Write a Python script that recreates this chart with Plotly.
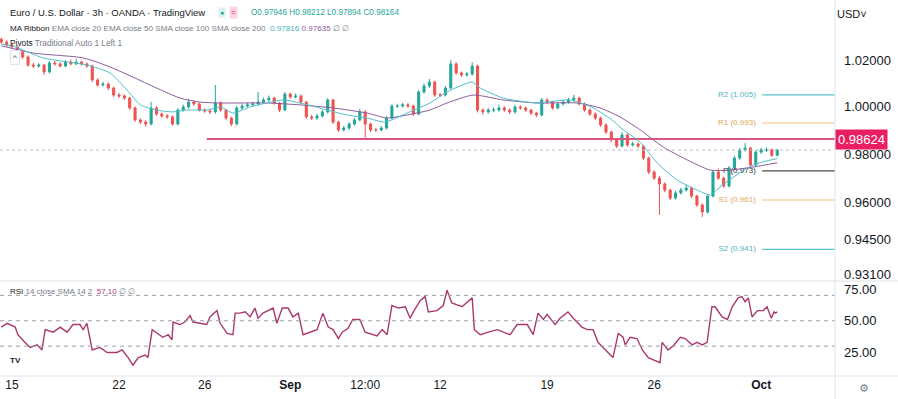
import math
import plotly.graph_objects as go

# ---------------- data (EUR/USD, OANDA, candles) ----------------
opens = [1.0290,1.0278,1.0265,1.0257,1.0235,1.0213,1.0178,1.0174,1.0178,1.0148,
         1.0187,1.0183,1.0174,1.0191,1.0183,1.0191,1.0183,1.0174,1.0114,1.0092,
         1.0096,1.0079,1.0049,1.0045,1.0036,0.9994,0.9943,0.9934,0.9926,0.9994,
         0.9968,0.9960,0.9956,0.9926,0.9985,0.9998,1.0019,1.0011,0.9985,0.9981,
         0.9977,1.0015,0.9985,0.9951,0.9926,0.9994,1.0002,1.0007,1.0011,1.0019,
         1.0028,1.0036,1.0015,0.9985,1.0053,1.0041,1.0045,1.0019,0.9956,0.9951,
         0.9960,0.9977,1.0028,0.9934,0.9901,0.9909,0.9926,0.9943,0.9977,0.9926,
         0.9901,0.9901,0.9909,0.9951,1.0002,1.0002,1.0007,1.0002,0.9968,1.0062,
         1.0088,1.0105,1.0049,1.0049,1.0079,1.0183,1.0144,1.0135,1.0139,1.0174,
         0.9985,0.9977,0.9985,0.9985,0.9994,0.9985,0.9977,0.9998,0.9994,0.9985,
         0.9972,0.9964,1.0028,1.0019,0.9994,1.0011,1.0019,1.0028,1.0036,1.0011,
         0.9985,0.9968,0.9951,0.9922,0.9892,0.9859,0.9833,0.9880,0.9838,0.9842,
         0.9833,0.9783,0.9725,0.9700,0.9676,0.9651,0.9618,0.9639,0.9651,0.9659,
         0.9626,0.9590,0.9561,0.9626,0.9725,0.9700,0.9667,0.9742,0.9783,0.9817,
         0.9825,0.9754,0.9808,0.9817,0.9817,0.97946]
highs = [1.0298,1.0286,1.0272,1.0263,1.0241,1.0220,1.0188,1.0186,1.0183,1.0196,
         1.0195,1.0190,1.0200,1.0202,1.0205,1.0197,1.0189,1.0180,1.0120,1.0106,
         1.0103,1.0085,1.0058,1.0052,1.0042,1.0000,0.9950,0.9942,1.0020,1.0001,
         0.9975,0.9968,0.9962,0.9993,1.0008,1.0032,1.0026,1.0017,0.9992,0.9988,
         1.0092,1.0022,0.9990,0.9957,1.0003,1.0012,1.0016,1.0020,1.0062,1.0038,
         1.0047,1.0042,1.0020,1.0062,1.0060,1.0056,1.0052,1.0024,0.9965,0.9969,
         0.9986,1.0036,1.0033,0.9940,0.9918,0.9934,0.9952,0.9990,0.9985,0.9932,
         0.9910,0.9917,0.9960,1.0010,1.0012,1.0016,1.0014,1.0008,1.0070,1.0098,
         1.0118,1.0110,1.0058,1.0088,1.0200,1.0190,1.0150,1.0148,1.0190,1.0180,
         0.9993,0.9994,0.9996,1.0008,1.0001,0.9992,1.0008,1.0006,1.0000,0.9990,
         0.9978,1.0036,1.0035,1.0025,1.0020,1.0028,1.0037,1.0050,1.0042,1.0017,
         0.9992,0.9975,0.9957,0.9928,0.9898,0.9864,0.9892,0.9886,0.9852,0.9849,
         0.9838,0.9790,0.9732,0.9708,0.9682,0.9657,0.9648,0.9660,0.9672,0.9665,
         0.9632,0.9596,0.9635,0.9733,0.9740,0.9706,0.9750,0.9792,0.9826,0.9846,
         0.9830,0.9816,0.9826,0.9828,0.9822,0.98212]
lows = [1.0270,1.0258,1.0249,1.0228,1.0205,1.0170,1.0165,1.0166,1.0135,1.0142,
        1.0176,1.0167,1.0168,1.0177,1.0178,1.0176,1.0166,1.0105,1.0084,1.0086,
        1.0070,1.0041,1.0037,1.0028,0.9986,0.9935,0.9925,0.9915,0.9920,0.9960,
        0.9952,0.9948,0.9918,0.9920,0.9978,0.9992,1.0003,0.9978,0.9973,0.9968,
        0.9970,0.9978,0.9943,0.9917,0.9920,0.9986,0.9995,0.9999,1.0004,1.0012,
        1.0020,1.0008,0.9977,0.9980,1.0033,1.0034,1.0011,0.9948,0.9942,0.9944,
        0.9953,0.9970,0.9926,0.9892,0.9894,0.9902,0.9919,0.9937,0.9867,0.9893,
        0.9892,0.9894,0.9903,0.9945,0.9994,0.9995,0.9994,0.9960,0.9962,1.0055,
        1.0080,1.0041,1.0040,1.0043,1.0073,1.0136,1.0127,1.0128,1.0132,0.9975,
        0.9965,0.9970,0.9976,0.9978,0.9977,0.9968,0.9970,0.9986,0.9977,0.9964,
        0.9955,0.9958,1.0010,0.9986,0.9988,1.0004,1.0012,1.0020,1.0004,0.9977,
        0.9960,0.9943,0.9914,0.9884,0.9850,0.9825,0.9828,0.9830,0.9831,0.9825,
        0.9775,0.9716,0.9692,0.9549,0.9642,0.9610,0.9612,0.9632,0.9644,0.9618,
        0.9582,0.9541,0.9555,0.9620,0.9692,0.9660,0.9662,0.9736,0.9776,0.9810,
        0.9745,0.9748,0.9800,0.9808,0.9788,0.97894]
closes = [1.0278,1.0265,1.0257,1.0235,1.0213,1.0178,1.0174,1.0178,1.0148,1.0187,
          1.0183,1.0174,1.0191,1.0183,1.0191,1.0183,1.0174,1.0114,1.0092,1.0096,
          1.0079,1.0049,1.0045,1.0036,0.9994,0.9943,0.9934,0.9926,0.9994,0.9968,
          0.9960,0.9956,0.9926,0.9985,0.9998,1.0019,1.0011,0.9985,0.9981,0.9977,
          1.0015,0.9985,0.9951,0.9926,0.9994,1.0002,1.0007,1.0011,1.0019,1.0028,
          1.0036,1.0015,0.9985,1.0053,1.0041,1.0045,1.0019,0.9956,0.9951,0.9960,
          0.9977,1.0028,0.9934,0.9901,0.9909,0.9926,0.9943,0.9977,0.9926,0.9901,
          0.9901,0.9909,0.9951,1.0002,1.0002,1.0007,1.0002,0.9968,1.0062,1.0088,
          1.0105,1.0049,1.0049,1.0079,1.0183,1.0144,1.0135,1.0139,1.0174,0.9985,
          0.9977,0.9985,0.9985,0.9994,0.9985,0.9977,0.9998,0.9994,0.9985,0.9972,
          0.9964,1.0028,1.0019,0.9994,1.0011,1.0019,1.0028,1.0036,1.0011,0.9985,
          0.9968,0.9951,0.9922,0.9892,0.9859,0.9833,0.9880,0.9838,0.9842,0.9833,
          0.9783,0.9725,0.9700,0.9676,0.9651,0.9618,0.9639,0.9651,0.9659,0.9626,
          0.9590,0.9561,0.9626,0.9725,0.9700,0.9667,0.9742,0.9783,0.9817,0.9825,
          0.9754,0.9808,0.9817,0.9817,0.97946,0.98164]

# MA ribbon (positions in candle units)
ema20_t = [0,2.6,7.8,16,20.3,23.5,26,29,32,34.7,38.4,41,43.3,46.5,52.7,55.8,60.9,64.6,68.4,
           71.7,75.8,80.1,83.3,88,89.5,93.8,100.1,106.3,110.6,114.3,116,119.4,122.6,126.3,
           130,132.5,134.3,136.8,140.5,145]
ema20_v = [1.0270,1.0257,1.0209,1.0178,1.0144,1.0070,1.0007,0.9985,0.9977,0.9985,0.9985,
           0.9998,0.9972,0.9998,1.0028,1.0015,0.9985,0.9964,0.9951,0.9934,0.9972,1.0015,
           1.0062,1.0105,1.0079,1.0036,1.0015,1.0028,0.9994,0.9940,0.9905,0.9850,0.9762,
           0.9692,0.9651,0.9631,0.9663,0.9704,0.9754,0.97816]
ema50_t = [0,6,15.3,20.3,24.6,29,33.4,37.1,40.9,49.7,55.8,62,68.4,72.1,75.8,80.1,83.3,88.2,
           93.8,100.1,107.6,111.9,115.6,119.4,123.7,128.2,132.5,136.2,140.5,145]
ema50_v = [1.0262,1.0230,1.0209,1.0170,1.0126,1.0079,1.0036,1.0019,1.0015,1.0015,1.0007,
           0.9994,0.9972,0.9951,0.9964,0.9985,1.0015,1.0049,1.0028,1.0015,1.0015,0.9994,
           0.9956,0.9901,0.9829,0.9775,0.9733,0.9733,0.9746,0.97635]

# RSI 14
rsi_t = [0,1.1,2.6,3.1,4.4,5.4,6.7,7.6,8.2,9.7,11,12.3,13.4,14.7,15.3,16,17,18.4,19.8,21.6,
         22.6,23.7,24.6,25.6,26.9,27.4,28.2,29.3,30.2,31.2,31.9,32.1,33.4,34.3,35.3,35.8,
         37.1,38.4,39,40.3,40.9,42.2,43.3,43.7,44.6,45.6,46.5,47.4,48,48.9,50.8,51.5,52.5,
         53.6,54.5,55.5,56.4,57.7,59,60.1,61.1,62,63,63.7,64.8,65.7,67,68,69.3,70.2,71.2,
         72.1,73,74.2,75.5,76.4,77,78.3,79.2,79.8,81.4,82.6,83.3,84.2,86.1,88,88.4,89.5,91,
         92.7,95.1,96.4,98.3,99.4,100.3,101.3,102,103.5,104.4,105.9,106.9,108.5,109.5,110.6,
         111.5,112.5,113.4,114.3,115.3,116.2,116.6,117.5,118.8,119.8,120.9,122.2,123.1,123.5,
         124.1,124.6,125.5,126.9,127.8,129.1,130,131,131.9,132.8,133.4,134.7,135.7,136.6,
         137.7,138.4,139,139.6,140.3,141.3,142.4,143.1,143.9,144.4,144.7,145]
rsi_v = [45,48,45,39,33,29,31,27,43,41,45,41,47,47,43,48,27,29,25,25,
         27,21,15,21,23,21,43,40,37,39,35,49,47,49,54,49,
         48,47,53,58,48,40,39,56,56,57,53,60,52,56,60,48,60,
         60,53,56,39,41,43,56,45,43,36,41,44,51,51,41,39,38,43,
         39,62,60,61,52,57,66,69,57,58,62,74,64,61,68,43,39,41,
         43,39,47,47,39,56,51,55,47,52,57,52,45,43,43,
         33,29,25,21,40,37,31,37,36,27,21,19,17,33,
         30,27,30,37,36,31,33,31,33,61,61,53,51,61,
         68,69,65,68,53,58,58,61,52,57,56,57.1]

# Pivots (Traditional) and the horizontal level
pivot_names = ["R2", "R1", "P", "S1", "S2"]
pivot_values = [1.005, 0.993, 0.973, 0.961, 0.941]
pivot_colors = ["#5bc2cf", "#f3c07e", "#4a4a4a", "#f3c07e", "#5bc2cf"]
pivot_text_colors = ["#4fb4c2", "#e0a85a", "#333333", "#e0a85a", "#4fb4c2"]
level_value = 0.98624
last_close = 0.98164

price_ticks = [1.02, 1.00, 0.98, 0.96, 0.945, 0.931]
rsi_ticks = [75, 50, 25]
x_tick_pos = [2, 22, 38, 54, 68, 82, 102, 122, 142]
x_tick_text = ["15", "22", "26", "<b>Sep</b>", "12:00", "12", "19", "26", "<b>Oct</b>"]

# ---------------- figure ----------------
W, H = 898, 399
ML, MR, MT, MB = 0, 63, 0, 23
PW, PH = W - ML - MR, H - MT - MB
XR = [-0.24, 155.8]
split = 1 - 281 / PH

def py(ypx):
    return 1 - ypx / PH

def px(xpx):
    return xpx / PW

FONT = "Liberation Sans, Arial, sans-serif"
TXT = "#131722"
GRAY = "#787b86"

fig = go.Figure()
idx = list(range(len(closes)))

fig.add_trace(go.Scatter(x=XR, y=[last_close, last_close], mode="lines",
                         line=dict(color="#b8bcc8", width=1, dash="dot"),
                         hoverinfo="skip", xaxis="x", yaxis="y"))
fig.add_trace(go.Scatter(x=[38.4, XR[1]], y=[level_value, level_value], mode="lines",
                         line=dict(color="#d9577f", width=2),
                         hoverinfo="skip", xaxis="x", yaxis="y"))
for name, val, lc, tc in zip(pivot_names, pivot_values, pivot_colors, pivot_text_colors):
    fig.add_trace(go.Scatter(x=[142.2, XR[1]], y=[val, val], mode="lines",
                             line=dict(color=lc, width=1.2), hoverinfo="skip",
                             xaxis="x", yaxis="y"))
    fig.add_trace(go.Scatter(x=[141.0], y=[val], mode="text",
                             text=[f"{name} ({val:.3f})"], textposition="middle left",
                             textfont=dict(family=FONT, size=8, color=tc),
                             hoverinfo="skip", xaxis="x", yaxis="y"))

fig.add_trace(go.Scatter(x=ema50_t, y=ema50_v, mode="lines",
                         line=dict(color="#8e5a9c", width=1, shape="spline", smoothing=0.6),
                         hoverinfo="skip", xaxis="x", yaxis="y"))
fig.add_trace(go.Scatter(x=ema20_t, y=ema20_v, mode="lines",
                         line=dict(color="#4fc0c9", width=1, shape="spline", smoothing=0.6),
                         hoverinfo="skip", xaxis="x", yaxis="y"))

fig.add_trace(go.Candlestick(
    x=idx, open=opens, high=highs, low=lows, close=closes,
    increasing=dict(line=dict(color="#26a69a", width=1), fillcolor="#26a69a"),
    decreasing=dict(line=dict(color="#ef5350", width=1), fillcolor="#ef5350"),
    whiskerwidth=0, xaxis="x", yaxis="y", hoverinfo="skip"))

fig.add_trace(go.Scatter(x=rsi_t, y=rsi_v, mode="lines",
                         line=dict(color="#a93a6e", width=1.4),
                         hoverinfo="skip", xaxis="x2", yaxis="y2"))

shapes = []
for lvl in [70, 50, 30]:
    shapes.append(dict(type="line", xref="paper", yref="y2", x0=0, x1=1, y0=lvl, y1=lvl,
                       line=dict(color="#9a9ea8", width=1, dash="4px,4px")))
# pane separators
shapes.append(dict(type="line", xref="paper", yref="paper", x0=0, x1=W / PW, y0=split, y1=split,
                   line=dict(color="#e0e3eb", width=1)))
shapes.append(dict(type="line", xref="paper", yref="paper", x0=0, x1=W / PW, y0=0, y1=0,
                   line=dict(color="#e0e3eb", width=1)))
shapes.append(dict(type="line", xref="paper", yref="paper", x0=1, x1=1, y0=-MB / PH, y1=1,
                   line=dict(color="#e0e3eb", width=1)))

ann = []
ann.append(dict(xref="paper", yref="paper", x=px(8), y=py(13), xanchor="left", yanchor="middle",
                text="Euro / U.S. Dollar · 3h · OANDA · TradingView", showarrow=False,
                font=dict(family=FONT, size=9.5, color=TXT)))
ann.append(dict(xref="paper", yref="paper", x=px(222), y=py(13), xanchor="center", yanchor="middle",
                text="●", showarrow=False, font=dict(family=FONT, size=7, color="#22ab94"),
                bgcolor="#d9f2ee", borderpad=1))
ann.append(dict(xref="paper", yref="paper", x=px(233), y=py(13), xanchor="center", yanchor="middle",
                text="=", showarrow=False, font=dict(family=FONT, size=8, color="#e91e63"),
                bgcolor="#fbd5e1", borderpad=1))
ann.append(dict(xref="paper", yref="paper", x=px(249), y=py(13), xanchor="left", yanchor="middle",
                text="O0.97946 H0.98212 L0.97894 C0.98164", showarrow=False,
                font=dict(family=FONT, size=8.2, color="#26a69a")))
ann.append(dict(xref="paper", yref="paper", x=px(8), y=py(28), xanchor="left", yanchor="middle",
                text=("MA Ribbon <span style='color:#787b86'>EMA close 20 EMA close 50 SMA close 100 "
                      "SMA close 200</span>  <span style='color:#3fb3c0'>0.97816</span> "
                      "<span style='color:#8e5a9c'>0.97635</span> "
                      "<span style='color:#787b86'>∅ ∅</span>"),
                showarrow=False, font=dict(family=FONT, size=8.1, color=TXT)))
ann.append(dict(xref="paper", yref="paper", x=px(8), y=py(43), xanchor="left", yanchor="middle",
                text="Pivots <span style='color:#787b86'>Traditional Auto 1 Left 1</span>",
                showarrow=False, font=dict(family=FONT, size=8.3, color=TXT)))
ann.append(dict(xref="paper", yref="paper", x=px(15), y=py(57), xanchor="center", yanchor="middle",
                text="^", showarrow=False, font=dict(family=FONT, size=8, color=TXT),
                bordercolor="#e0e3eb", borderwidth=1, borderpad=2, bgcolor="white"))
ann.append(dict(xref="paper", yref="paper", x=px(8), y=py(291), xanchor="left", yanchor="middle",
                text=("RSI <span style='color:#787b86'>14 close SMA 14 2</span>  "
                      "<span style='color:#a93a6e'>57.10</span> "
                      "<span style='color:#787b86'>∅ ∅</span>"),
                showarrow=False, font=dict(family=FONT, size=8, color=TXT)))
ann.append(dict(xref="paper", yref="paper", x=px(15), y=py(360), xanchor="center", yanchor="middle",
                text="<b>TV</b>", showarrow=False, font=dict(family=FONT, size=8, color=TXT),
                bgcolor="white", borderpad=3))
ann.append(dict(xref="paper", yref="y", x=1.0, y=math.log10(level_value), xanchor="left",
                yanchor="middle", text=f"{level_value:.5f}", showarrow=False,
                font=dict(family=FONT, size=13, color="white"), bgcolor="#e91e63", borderpad=2))
ann.append(dict(xref="paper", yref="paper", x=px(852), y=py(14), xanchor="center", yanchor="middle",
                text="USD˅", showarrow=False, font=dict(family=FONT, size=11, color=TXT)))
ann.append(dict(xref="paper", yref="paper", x=px(864), y=py(388), xanchor="center", yanchor="middle",
                text="⚙", showarrow=False, font=dict(family="DejaVu Sans", size=11, color=GRAY)))

fig.update_layout(
    width=W, height=H, margin=dict(l=ML, r=MR, t=MT, b=MB),
    paper_bgcolor="white", plot_bgcolor="white", showlegend=False,
    boxgap=0.45,
    xaxis=dict(domain=[0, 1], anchor="y", range=XR, showticklabels=False, showgrid=False,
               zeroline=False, showline=False, ticks="", rangeslider=dict(visible=False)),
    xaxis2=dict(domain=[0, 1], anchor="y2", range=XR, tickvals=x_tick_pos, ticktext=x_tick_text,
                showgrid=False, zeroline=False, showline=False, ticks="",
                tickfont=dict(family=FONT, size=12, color=TXT)),
    yaxis=dict(domain=[split, 1], anchor="x", type="log", side="right",
               range=[math.log10(0.92844), math.log10(1.04637)],
               tickvals=price_ticks, ticktext=[f"{v:.5f}" for v in price_ticks],
               showgrid=False, zeroline=False, showline=False, ticks="", ticklabelstandoff=8,
               tickfont=dict(family=FONT, size=13, color=TXT)),
    yaxis2=dict(domain=[0, split], anchor="x2", range=[6.5, 81.3], side="right",
                tickvals=rsi_ticks, ticktext=[f"{v:.2f}" for v in rsi_ticks],
                showgrid=False, zeroline=False, showline=False, ticks="", ticklabelstandoff=8,
                tickfont=dict(family=FONT, size=13, color=TXT)),
    shapes=shapes, annotations=ann,
)

fig.write_html("out.html", config={"displayModeBar": False},
               post_script="document.body.style.margin='0px';document.body.style.padding='0px';")
